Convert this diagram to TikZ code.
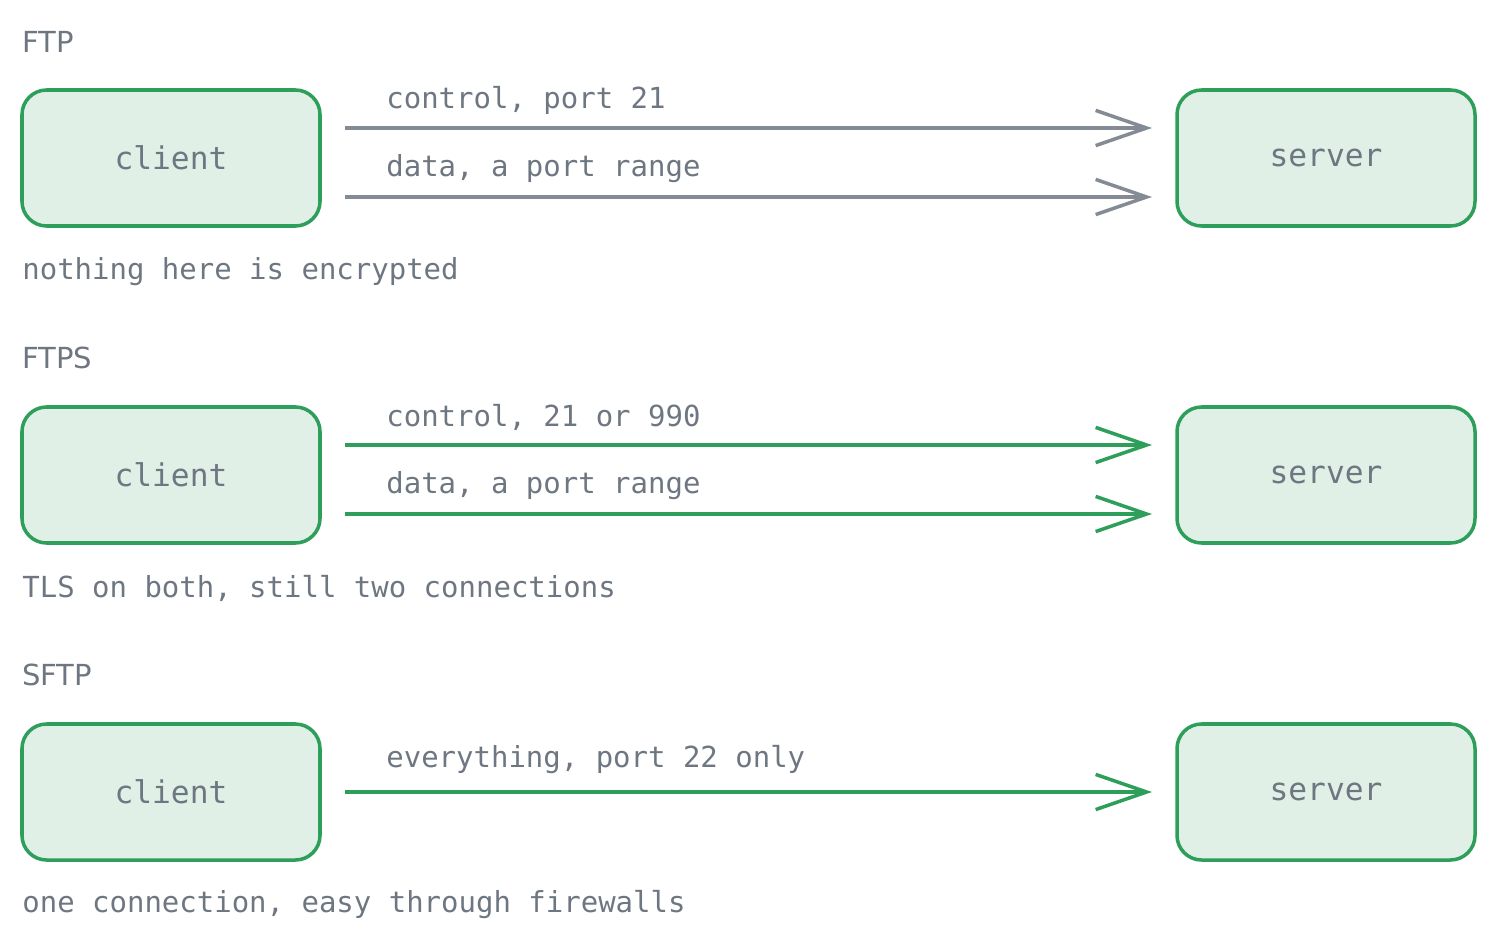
\documentclass[tikz,border=0pt]{standalone}
\usepackage{fontspec}
\setmainfont{DejaVu Sans}
\setmonofont{DejaVu Sans Mono}
\usetikzlibrary{arrows.meta}
\definecolor{boxgreen}{HTML}{2E9E5B}
\definecolor{boxfill}{HTML}{E0F0E6}
\definecolor{txtgrey}{HTML}{6E7781}
\definecolor{arrgrey}{HTML}{858B94}
\newlength{\px}\setlength{\px}{0.02cm}
\tikzset{
  host/.style={draw=boxgreen, fill=boxfill, line width=2pt, rounded corners=14pt,
    minimum width=298\px, minimum height=136\px, text=txtgrey, font=\ttfamily\fontsize{17.8}{20}\selectfont},
  link/.style={line width=2pt, -{Straight Barb[length=29pt,width=20pt,line width=2pt]}},
  lbl/.style={anchor=west, text=txtgrey, font=\ttfamily\fontsize{16.5}{18}\selectfont, inner sep=0pt},
  ttl/.style={anchor=west, text=txtgrey, font=\fontsize{16.5}{18}\selectfont, inner sep=0pt}
}
\begin{document}
\begin{tikzpicture}[x=0.02cm, y=-0.02cm]
    \useasboundingbox (0,0) rectangle (1498,946);
    % FTP
    \node[ttl] (T1) at (22,42) {FTP};
    \node[host] (C1) at (171,158) {client};
    \node[host] (S1) at (1326,158) {server};
    \coordinate (a1) at (345,128); \coordinate (b1) at (1152,128);
    \coordinate (a2) at (345,197); \coordinate (b2) at (1152,197);
    \draw[link, arrgrey] (a1) -- (b1);
    \draw[link, arrgrey] (a2) -- (b2);
    \node[lbl] (L1) at (386,100) {control, port 21};
    \node[lbl] (L2) at (386,169) {data, a port range};
    \node[lbl] (N1) at (22,272) {nothing here is encrypted};
    % FTPS
    \node[ttl] (T2) at (22,358) {FTPS};
    \node[host] (C2) at (171,475) {client};
    \node[host] (S2) at (1326,475) {server};
    \coordinate (a3) at (345,445); \coordinate (b3) at (1152,445);
    \coordinate (a4) at (345,514); \coordinate (b4) at (1152,514);
    \draw[link, boxgreen] (a3) -- (b3);
    \draw[link, boxgreen] (a4) -- (b4);
    \node[lbl] (L3) at (386,417) {control, 21 or 990};
    \node[lbl] (L4) at (386,486) {data, a port range};
    \node[lbl] (N2) at (22,588) {TLS on both, still two connections};
    % SFTP
    \node[ttl] (T3) at (22,675) {SFTP};
    \node[host] (C3) at (171,792) {client};
    \node[host] (S3) at (1326,792) {server};
    \coordinate (a5) at (345,792); \coordinate (b5) at (1152,792);
    \draw[link, boxgreen] (a5) -- (b5);
    \node[lbl] (L5) at (386,760) {everything, port 22 only};
    \node[lbl] (N3) at (22,905) {one connection, easy through firewalls};
\end{tikzpicture}
\end{document}
